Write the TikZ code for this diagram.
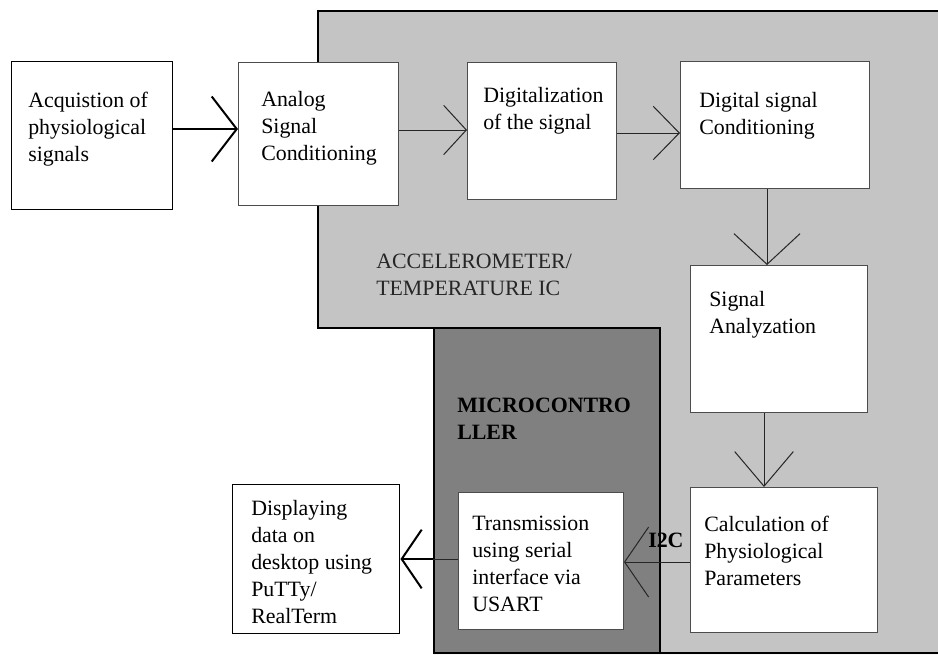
\documentclass[tikz,border=0pt]{standalone}
\usepackage{fontspec}
\setmainfont{Liberation Serif}
\usetikzlibrary{arrows.meta}
\newcommand{\mlines}[1]{\begin{tabular}[t]{@{}l@{}}#1\end{tabular}}
\definecolor{lgray}{HTML}{C4C4C4}
\definecolor{dgray}{HTML}{808080}
\begin{document}
\begin{tikzpicture}[x=0.75pt,y=-0.75pt,
  box/.style={draw=black!70, line width=0.75pt, fill=white, anchor=north west, inner sep=0pt},
  obox/.style={draw=black, line width=1.1pt, fill=white, anchor=north west, inner sep=0pt},
  txt/.style={anchor=base west, inner sep=0pt, font=\fontsize{16.4}{20.25}\selectfont},
  btxt/.style={txt, font=\fontsize{16.4}{20.25}\selectfont\bfseries},
  con/.style={line width=0.75pt, draw=black!85},
  thickcon/.style={line width=1.5pt, draw=black},
  hd/.style 2 args={-{Straight Barb[length=#1,width=#2]}},
  region/.style={line width=1.5pt, draw=black}
]
\useasboundingbox (0,0) rectangle (938,654);

% light gray region (accelerometer / temperature IC)
\fill[lgray] (318,10) -- (938,10) -- (938,654) -- (433,654) -- (433,328) -- (318,328) -- cycle;
\draw[region] (938,10.5) -- (318,10.5) -- (318,328) -- (433,328);
\draw[region] (433,652.5) -- (938,652.5);

% microcontroller region
\node[region, fill=dgray, anchor=north west, inner sep=0pt,
      minimum width=169.5pt, minimum height=243.75pt] (mcu) at (433,327) {};

% boxes
\node[obox, minimum width=120.75pt, minimum height=111pt]   (acq) at (11,61)   {};
\node[box,  minimum width=120pt,    minimum height=107.25pt](ana) at (238,62)  {};
\node[box,  minimum width=111.75pt, minimum height=102.75pt](dig) at (467,62)  {};
\node[box,  minimum width=141.75pt, minimum height=95.25pt] (dsc) at (680,61)  {};
\node[box,  minimum width=132.75pt, minimum height=110.25pt](san) at (690,265) {};
\node[box,  minimum width=140.25pt, minimum height=108.75pt](cal) at (690,487) {};
\node[box,  minimum width=123.75pt, minimum height=102.75pt](trn) at (458,492) {};
\node[obox, minimum width=125.25pt, minimum height=111.75pt](dsp) at (232,484) {};

% texts
\node[txt] (acq-t) at (28,107)  {\mlines{Acquistion of\\physiological\\signals}};
\node[txt] (ana-t) at (261,106) {\mlines{Analog\\Signal\\Conditioning}};
\node[txt] (dig-t) at (483,102) {\mlines{Digitalization\\of the signal}};
\node[txt] (dsc-t) at (699,107) {\mlines{Digital signal\\Conditioning}};
\node[txt] (san-t) at (709,306) {\mlines{Signal\\Analyzation}};
\node[txt] (cal-t) at (704,531) {\mlines{Calculation of\\Physiological\\Parameters}};
\node[txt] (trn-t) at (472,530) {\mlines{Transmission\\using serial\\interface via\\USART}};
\node[txt] (dsp-t) at (251,515) {\mlines{Displaying\\data on\\desktop using\\PuTTy/\\RealTerm}};
\node[txt, text=black!85] (acc-t) at (376,268) {\mlines{ACCELEROMETER/\\TEMPERATURE IC}};
\node[btxt] (mcu-t) at (457,412) {\mlines{MICROCONTRO\\LLER}};
\node[btxt] (i2c) at (648,547) {I2C};

% connectors
\draw[thickcon, hd={18.75pt}{48.75pt}] (acq.east |- 0,129) -- (ana.west |- 0,129);
\draw[con, hd={17pt}{37pt}]           (ana.east |- 0,130) -- (dig.west |- 0,130);
\draw[con, hd={19.5pt}{40pt}]         (dig.east |- 0,133) -- (dsc.west |- 0,133);
\draw[con, hd={23pt}{49.5pt}]         (dsc.south -| 767,0) -- (san.north -| 767,0);
\draw[con, hd={26pt}{44pt}]           (san.south -| 764,0) -- (cal.north -| 764,0);
\draw[con, hd={18pt}{52.5pt}]         (cal.west |- 0,562) -- (trn.east |- 0,562);
\draw[con] (trn.west |- 0,559) -- (mcu.west |- 0,559);
\draw[thickcon, hd={15pt}{44pt}]      (mcu.west |- 0,559) -- (dsp.east |- 0,559);
\end{tikzpicture}
\end{document}
